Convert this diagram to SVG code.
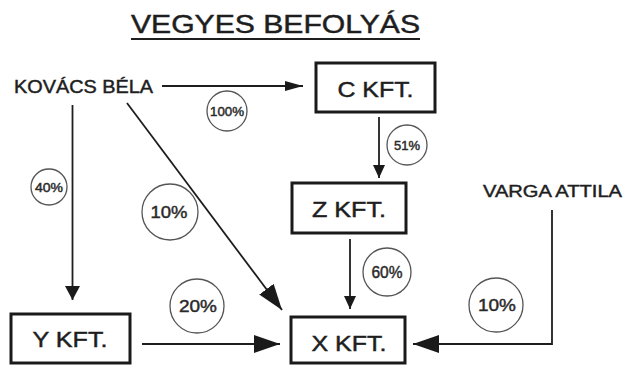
<svg xmlns="http://www.w3.org/2000/svg" width="623" height="365" viewBox="0 0 623 365">
<style>
text{font-family:"Liberation Sans",Arial,Helvetica,sans-serif;fill:#1e1e1e;stroke:#1e1e1e;stroke-width:0.45}
.box{fill:#fff;stroke:#1a1a1a;stroke-width:3}
.lbl{font-size:22px;text-anchor:middle}
.pc{fill:#fff;stroke:#555;stroke-width:1.3}
.pt{text-anchor:middle;fill:#2a2a2a;stroke:#2a2a2a}
.cn{fill:none;stroke:#1e1e1e;stroke-width:1.8}
</style>
<defs>
<marker id="aL" markerUnits="userSpaceOnUse" markerWidth="27" markerHeight="18" refX="26" refY="9" orient="auto"><path d="M0,0 L26,9 L0,18 z" fill="#1a1a1a"/></marker>
<marker id="aM" markerUnits="userSpaceOnUse" markerWidth="19" markerHeight="11" refX="18" refY="5" orient="auto"><path d="M0,0 L18,5 L0,10 z" fill="#1a1a1a"/></marker>
<marker id="aV" markerUnits="userSpaceOnUse" markerWidth="15" markerHeight="16" refX="14" refY="7.5" orient="auto"><path d="M0,0 L14,7.5 L0,15 z" fill="#1a1a1a"/></marker>
<marker id="aS" markerUnits="userSpaceOnUse" markerWidth="14" markerHeight="13" refX="13" refY="6" orient="auto"><path d="M0,0 L13,6 L0,12 z" fill="#1a1a1a"/></marker>
</defs>
<rect width="623" height="365" fill="#fff"/>
<g id="title">
<text x="131" y="33" font-size="25" stroke-width="0.3" textLength="289" lengthAdjust="spacingAndGlyphs">VEGYES BEFOLYÁS</text>
<rect x="131" y="38" width="289" height="2" fill="#1e1e1e"/>
</g>
<g id="connectors">
<line class="cn" x1="162" y1="86" x2="303" y2="86" marker-end="url(#aM)"/>
<line class="cn" x1="72.5" y1="105" x2="72.5" y2="300" marker-end="url(#aV)"/>
<line class="cn" x1="127" y1="103" x2="282" y2="310" marker-end="url(#aL)"/>
<line class="cn" x1="379" y1="117" x2="379" y2="178" stroke-width="1.5" marker-end="url(#aS)"/>
<line class="cn" x1="350" y1="239" x2="350" y2="309" stroke-width="1.5" marker-end="url(#aS)"/>
<line class="cn" x1="142" y1="344" x2="280" y2="344" marker-end="url(#aL)"/>
<polyline class="cn" points="552,210 552,344 413,344" marker-end="url(#aL)"/>
</g>
<g id="kovacs"><text x="14" y="93" font-size="18" textLength="139" lengthAdjust="spacingAndGlyphs">KOVÁCS BÉLA</text></g>
<g id="varga"><text x="483" y="197" font-size="17" textLength="139" lengthAdjust="spacingAndGlyphs">VARGA ATTILA</text></g>
<g id="ckft"><rect class="box" x="316" y="63" width="119" height="49"/><text class="lbl" x="375.5" y="97" textLength="76" lengthAdjust="spacingAndGlyphs">C KFT.</text></g>
<g id="zkft"><rect class="box" x="292" y="183" width="114" height="50"/><text class="lbl" x="349" y="217" textLength="74" lengthAdjust="spacingAndGlyphs">Z KFT.</text></g>
<g id="ykft"><rect class="box" x="11" y="314" width="119" height="49"/><text class="lbl" x="70" y="347" textLength="75" lengthAdjust="spacingAndGlyphs">Y KFT.</text></g>
<g id="xkft"><rect class="box" x="291" y="317" width="114" height="46"/><text class="lbl" x="349" y="351" textLength="75" lengthAdjust="spacingAndGlyphs">X KFT.</text></g>
<g id="p40"><circle class="pc" cx="49" cy="187" r="18"/><text class="pt" x="49" y="192" font-size="13" textLength="28" lengthAdjust="spacingAndGlyphs">40%</text></g>
<g id="p100"><circle class="pc" cx="227" cy="111" r="20"/><text class="pt" x="227" y="116" font-size="13" textLength="34" lengthAdjust="spacingAndGlyphs">100%</text></g>
<g id="p51"><circle class="pc" cx="407" cy="145" r="20"/><text class="pt" x="407" y="150" font-size="13" textLength="26" lengthAdjust="spacingAndGlyphs">51%</text></g>
<g id="p10a"><circle class="pc" cx="170" cy="212" r="28"/><text class="pt" x="169" y="218" font-size="17" textLength="37" lengthAdjust="spacingAndGlyphs">10%</text></g>
<g id="p20"><circle class="pc" cx="197" cy="306" r="27"/><text class="pt" x="198" y="312" font-size="17" textLength="38" lengthAdjust="spacingAndGlyphs">20%</text></g>
<g id="p60"><circle class="pc" cx="387" cy="272" r="24"/><text class="pt" x="387" y="278" font-size="16" textLength="31" lengthAdjust="spacingAndGlyphs">60%</text></g>
<g id="p10b"><circle class="pc" cx="496" cy="305" r="27"/><text class="pt" x="497" y="311" font-size="17" textLength="38" lengthAdjust="spacingAndGlyphs">10%</text></g>
</svg>
